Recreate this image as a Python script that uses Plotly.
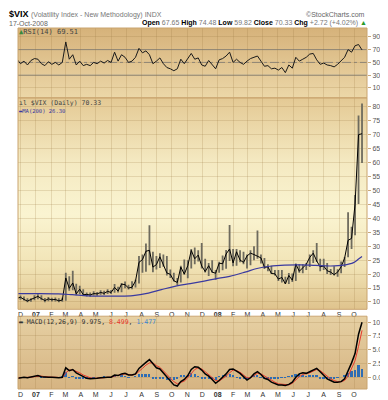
import base64
import pandas as pd
import plotly.graph_objects as go

# ---------------- data (weekly) ----------------
close = [11.3, 11.7, 10.9, 10.3, 10.9, 11.6, 12.0, 11.2, 10.5, 11.1,
         10.8, 10.9, 10.4, 10.7, 18.6, 14.9, 16.8, 12.9, 14.6, 12.6,
         12.7, 12.5, 13.0, 12.9, 13.4, 13.1, 13.8, 13.4, 15.2, 13.9,
         16.4, 16.2, 15.0, 15.3, 17.5, 24.2, 25.2, 28.2, 28.5, 22.5,
         23.4, 26.2, 23.6, 20.4, 19.9, 17.6, 17.0, 22.5, 20.0, 23.0,
         28.5, 25.5, 26.8, 22.9, 20.9, 23.0, 20.7, 20.3, 23.9, 23.7,
         27.2, 29.0, 24.0, 28.0, 25.0, 24.2, 26.5, 27.5, 27.0, 26.4,
         25.8, 22.4, 22.6, 20.2, 20.1, 18.2, 18.8, 16.5, 19.5, 17.8,
         23.6, 21.0, 22.2, 23.5, 26.0, 27.5, 24.7, 22.6, 22.9, 21.2,
         20.7, 19.8, 20.7, 22.6, 25.7, 32.1, 32.8, 45.1, 70.0, 70.33]
high = [11.4, 12.3, 12.0, 11.3, 11.3, 12.4, 12.8, 12.4, 11.4, 11.8,
        11.5, 11.6, 11.3, 11.5, 20.5, 19.2, 21.2, 16.5, 15.8, 14.6,
        13.4, 13.4, 13.8, 13.6, 14.2, 14.0, 14.6, 14.3, 16.4, 15.5,
        16.8, 17.3, 16.2, 17.4, 18.0, 26.5, 27.0, 31.0, 37.5, 28.0,
        26.5, 27.5, 27.0, 26.5, 21.6, 20.5, 18.6, 23.0, 25.2, 25.0,
        29.0, 29.5, 28.5, 31.1, 25.5, 24.0, 25.0, 21.5, 24.4, 26.7,
        28.6, 37.6, 29.0, 29.0, 28.5, 28.0, 27.0, 28.5, 30.0, 35.6,
        27.0, 25.8, 23.5, 23.0, 21.5, 21.5, 21.5, 19.0, 20.4, 20.2,
        23.8, 23.5, 23.5, 24.0, 27.0, 28.5, 31.1, 25.5, 25.5, 24.0,
        21.8, 22.8, 21.7, 24.5, 26.0, 42.2, 37.0, 48.4, 76.9, 81.2]
low = [10.0, 10.8, 10.5, 9.9, 10.1, 10.6, 11.0, 10.6, 9.9, 10.3,
       10.2, 10.2, 9.9, 10.1, 10.4, 14.0, 14.2, 12.4, 12.8, 12.2,
       12.0, 11.9, 12.3, 12.2, 12.6, 12.5, 12.9, 12.9, 13.3, 13.4,
       13.5, 14.9, 14.5, 14.6, 15.2, 16.6, 20.5, 20.8, 23.2, 20.7,
       21.6, 22.2, 22.6, 19.5, 18.6, 17.3, 16.0, 17.0, 19.8, 18.5,
       22.0, 23.5, 24.5, 22.0, 20.6, 19.3, 20.5, 18.0, 20.5, 21.4,
       21.9, 24.7, 22.8, 23.0, 24.2, 23.5, 22.0, 23.2, 25.0, 25.5,
       23.8, 21.8, 21.0, 20.0, 19.5, 17.5, 17.0, 16.5, 16.4, 17.2,
       17.5, 20.5, 20.3, 21.5, 22.5, 24.0, 24.3, 21.0, 21.5, 20.0,
       19.7, 19.5, 19.0, 20.3, 22.5, 26.0, 29.0, 33.9, 45.1, 59.82]

ma_dates = ["2006-11-24", "2007-01-01", "2007-02-15", "2007-03-15", "2007-04-15",
            "2007-05-15", "2007-06-15", "2007-07-15", "2007-08-15", "2007-09-10",
            "2007-10-07", "2007-11-07", "2007-12-05", "2007-12-28", "2008-01-25",
            "2008-02-25", "2008-03-20", "2008-04-15", "2008-05-15", "2008-06-15",
            "2008-07-15", "2008-08-15", "2008-09-10", "2008-09-30", "2008-10-10",
            "2008-10-17"]
ma200 = [13.0, 13.0, 12.9, 12.6, 12.2, 12.1, 12.1, 12.3, 13.2, 14.4,
         15.6, 16.6, 17.5, 18.3, 19.2, 20.7, 22.0, 22.8, 23.2, 23.3,
         23.1, 22.9, 23.2, 24.1, 25.4, 26.3]

rsi = [55, 48, 52, 46, 53, 56, 55, 48, 45, 51,
       47, 50, 46, 50, 82, 55, 62, 46, 52, 45,
       47, 45, 50, 48, 52, 49, 53, 50, 66, 52,
       62, 58, 50, 52, 58, 72, 65, 68, 62, 48,
       52, 57, 48, 42, 40, 37, 40, 55, 48, 56,
       64, 55, 57, 46, 44, 53, 46, 40, 54, 56,
       60, 66, 50, 55, 50, 47, 52, 56, 58, 60,
       52, 44, 45, 40, 41, 38, 42, 34, 46, 41,
       58, 52, 55, 58, 63, 64, 54, 47, 49, 46,
       45, 43, 47, 52, 58, 70, 66, 76, 78, 69.51]

macd = [-0.2, -0.1, 0.0, -0.1, 0.0, 0.2, 0.3, 0.1, 0.0, 0.0,
        0.0, -0.1, -0.1, 0.0, 1.7, 1.2, 1.4, 0.8, 0.5, 0.1,
        -0.2, -0.3, -0.3, -0.2, -0.1, 0.0, 0.0, 0.0, 0.4, 0.3,
        0.6, 0.7, 0.4, 0.4, 0.6, 1.6, 2.2, 2.7, 3.2, 2.4,
        1.7, 1.5, 0.8, 0.0, -0.8, -1.4, -1.6, -0.8, -0.4, 0.3,
        1.4, 1.9, 1.8, 1.3, 0.6, 0.2, -0.4, -1.1, -0.6, 0.0,
        0.6, 1.4, 1.5, 1.1, 0.7, 0.1, -0.5, -0.1, 0.6, 1.0,
        0.5, -0.2, -0.4, -0.9, -1.2, -1.4, -1.4, -1.5, -1.3, -0.9,
        0.0, 0.6, 0.8, 0.7, 1.0, 1.3, 1.6, 1.0, 0.3, -0.3,
        -0.6, -0.9, -0.9, -0.8, -0.3, 1.0, 2.6, 4.3, 7.8, 9.975]
signal = [-0.1, -0.1, 0.0, 0.0, 0.0, 0.1, 0.2, 0.2, 0.1, 0.0,
          0.0, 0.0, -0.1, -0.1, 0.8, 1.3, 1.3, 1.1, 0.8, 0.4,
          0.1, -0.1, -0.2, -0.2, -0.1, -0.1, 0.0, 0.0, 0.2, 0.3,
          0.4, 0.6, 0.5, 0.4, 0.5, 1.0, 1.6, 2.2, 2.6, 2.6,
          2.1, 1.8, 1.2, 0.5, -0.2, -0.8, -1.2, -1.0, -0.7, -0.1,
          0.7, 1.4, 1.7, 1.5, 1.0, 0.5, 0.0, -0.6, -0.7, -0.3,
          0.2, 0.8, 1.3, 1.2, 0.9, 0.4, -0.1, -0.1, 0.3, 0.7,
          0.6, 0.2, -0.2, -0.6, -0.9, -1.2, -1.3, -1.4, -1.4, -1.1,
          -0.5, 0.1, 0.5, 0.6, 0.8, 1.1, 1.4, 1.2, 0.7, 0.1,
          -0.3, -0.6, -0.8, -0.8, -0.6, 0.2, 1.6, 3.0, 5.6, 8.499]
hist = [-0.1, 0.0, 0.0, -0.1, 0.0, 0.1, 0.1, -0.1, -0.1, 0.0,
        0.0, -0.1, 0.0, 0.1, 0.9, -0.1, 0.1, -0.3, -0.3, -0.3,
        -0.3, -0.2, -0.1, 0.0, 0.0, 0.1, 0.0, 0.0, 0.2, 0.0,
        0.2, 0.1, -0.1, 0.0, 0.1, 0.6, 0.6, 0.5, 0.6, -0.2,
        -0.4, -0.3, -0.4, -0.5, -0.6, -0.6, -0.4, 0.2, 0.3, 0.4,
        0.7, 0.5, 0.1, -0.2, -0.4, -0.3, -0.4, -0.5, 0.1, 0.3,
        0.4, 0.6, 0.2, -0.1, -0.2, -0.3, -0.4, 0.0, 0.3, 0.3,
        -0.1, -0.4, -0.2, -0.3, -0.3, -0.2, -0.1, -0.1, 0.1, 0.2,
        0.5, 0.5, 0.3, 0.1, 0.2, 0.2, 0.2, -0.2, -0.4, -0.4,
        -0.3, -0.3, -0.1, 0.0, 0.3, 0.8, 1.0, 1.3, 2.2, 1.477]

tick_text = ["D", "<b>07</b>", "F", "M", "A", "M", "J", "J", "A", "S", "O", "N",
             "D", "<b>08</b>", "F", "M", "A", "M", "J", "J", "A", "S", "O"]
rsi_ticks = [10, 30, 50, 70, 90]
price_ticks = [10, 15, 20, 25, 30, 35, 40, 45, 50, 55, 60, 65, 70, 75, 80]
macd_ticks = [0, 2.5, 5, 7.5, 10]
macd_tick_text = ["0.0", "2.5", "5.0", "7.5", "10.0"]

dates = pd.date_range(end="2008-10-17", periods=len(close), freq="W-FRI")
month_ticks = pd.date_range("2006-12-01", "2008-10-01", freq="MS")

# ---------------- layout geometry ----------------
W, H = 388, 400
L, R, T, B = 10, 363, 20, 387
X0, X1 = "2006-11-26", "2008-10-27"


def px(x):
    return (x - L) / (R - L)


def py(y):
    return (B - y) / (B - T)


rsi_dom = [py(91), 1.0]
price_dom = [py(306), py(91)]
macd_dom = [0.0, py(313)]

FONT = "Liberation Sans"
MONO = "DejaVu Sans Mono"
GRID = "rgba(150,115,60,0.20)"


def grad(stops):
    s = "".join(f'<stop offset="{o}" stop-color="{c}"/>' for o, c in stops)
    svg = ('<svg xmlns="http://www.w3.org/2000/svg" width="10" height="100" viewBox="0 0 10 100" '
           'preserveAspectRatio="none"><defs><linearGradient id="g" x1="0" y1="0" x2="0" y2="1">'
           + s + '</linearGradient></defs><rect width="10" height="100" fill="url(#g)"/></svg>')
    return "data:image/svg+xml;base64," + base64.b64encode(svg.encode()).decode()


fig = go.Figure()

fig.add_trace(go.Scatter(x=dates, y=rsi, mode="lines", line=dict(color="#1a1a1a", width=1),
                         xaxis="x", yaxis="y", hoverinfo="skip"))
fig.add_trace(go.Scatter(
    x=dates, y=close, mode="lines", line=dict(color="#000000", width=1),
    error_y=dict(type="data", symmetric=False,
                 array=[h - c for h, c in zip(high, close)],
                 arrayminus=[c - l for c, l in zip(close, low)],
                 color="#6e6b5e", thickness=1.8, width=0),
    xaxis="x2", yaxis="y2", hoverinfo="skip"))
fig.add_trace(go.Scatter(x=ma_dates, y=ma200, mode="lines",
                         line=dict(color="#3a3aa0", width=1.2, shape="spline"),
                         xaxis="x2", yaxis="y2", hoverinfo="skip"))
fig.add_trace(go.Bar(x=dates, y=hist, marker=dict(color="#2e6db4", line_width=0),
                     width=4 * 86400000, xaxis="x3", yaxis="y3", hoverinfo="skip"))
fig.add_trace(go.Scatter(x=dates, y=signal, mode="lines", line=dict(color="#e8392c", width=1),
                         xaxis="x3", yaxis="y3", hoverinfo="skip"))
fig.add_trace(go.Scatter(x=dates, y=macd, mode="lines", line=dict(color="#000000", width=1.5),
                         xaxis="x3", yaxis="y3", hoverinfo="skip"))

xcommon = dict(type="date", range=[X0, X1], tickvals=month_ticks, ticktext=tick_text,
               showgrid=True, gridcolor=GRID, gridwidth=1, zeroline=False, showline=False,
               ticks="", tickfont=dict(family=FONT, size=7, color="#333333"), fixedrange=True)
ycommon = dict(side="right", showgrid=True, gridcolor=GRID, gridwidth=1, zeroline=False,
               showline=False, ticks="outside", ticklen=3, tickcolor="#c8a878",
               tickfont=dict(family=FONT, size=7, color="#555555"), fixedrange=True)

shapes = []
for dom in (rsi_dom, price_dom, macd_dom):
    shapes.append(dict(type="rect", xref="paper", yref="paper", x0=0, x1=1, y0=dom[0], y1=dom[1],
                       line=dict(color="#c9a46e", width=1), fillcolor="rgba(0,0,0,0)", layer="above"))
for lvl, dash in ((70, "solid"), (30, "solid"), (50, "dashdot")):
    shapes.append(dict(type="line", xref="paper", yref="y", x0=0, x1=1, y0=lvl, y1=lvl,
                       line=dict(color="#8c8a84", width=1, dash=dash), layer="below"))

images = [
    dict(source=grad([(0, "#d6b27a"), (1, "#ecd7a8")]), xref="paper", yref="paper",
         x=0, y=rsi_dom[1], sizex=1, sizey=rsi_dom[1] - rsi_dom[0], sizing="stretch",
         xanchor="left", yanchor="top", layer="below"),
    dict(source=grad([(0, "#e4c994"), (0.3, "#f4e9c1"), (0.55, "#faf4d1"), (0.8, "#f1e3b5"), (1, "#dfc38d")]),
         xref="paper", yref="paper", x=0, y=price_dom[1], sizex=1, sizey=price_dom[1] - price_dom[0],
         sizing="stretch", xanchor="left", yanchor="top", layer="below"),
    dict(source=grad([(0, "#e6d0a3"), (1, "#d6b482")]), xref="paper", yref="paper",
         x=0, y=macd_dom[1], sizex=1, sizey=macd_dom[1] - macd_dom[0], sizing="stretch",
         xanchor="left", yanchor="top", layer="below"),
]


def ann(x, y, text, size=7, color="#333333", xanchor="left", family=FONT):
    return dict(xref="paper", yref="paper", x=px(x), y=py(y), text=text, showarrow=False,
                xanchor=xanchor, yanchor="middle", borderpad=0,
                font=dict(family=family, size=size, color=color))


g = "color:#777777"
annotations = [
    ann(0, 6, f"<b>$VIX</b> <span style='font-size:7px;{g}'>(Volatility Index - New Methodology) INDX</span>",
        size=9, color="#000000"),
    ann(362, 6, "©StockCharts.com", size=7, color="#666666", xanchor="right"),
    ann(0, 15, "17-Oct-2008", size=7, color="#666666"),
    ann(364, 15, f"<b>Open</b> <span style='{g}'>67.65</span> <b>High</b> <span style='{g}'>74.48</span> "
                 f"<b>Low</b> <span style='{g}'>59.82</span> <b>Close</b> <span style='{g}'>70.33</span> "
                 f"<b>Chg</b> <span style='{g}'>+2.72 (+4.02%)</span> <span style='color:#2a9a2a'>▲</span>",
        size=7, color="#000000", xanchor="right"),
    ann(10, 24, "<span style='color:#3a8a3a'>▲</span>RSI(14) 69.51", size=7, color="#444444", family=MONO),
    ann(10, 96, "ıl $VIX (Daily) 70.33", size=6.5, color="#444444", family=MONO),
    ann(10, 104, "<span style='color:#3a3aa0'>▬</span>MA(200) 26.30", size=5.5, color="#3a3aa0", family=MONO),
    ann(10, 319, "▬ MACD(12,26,9) 9.975, <span style='color:#e8392c'>8.499</span>, "
                 "<span style='color:#3a86d0'>1.477</span>", size=6.5, color="#333333", family=MONO),
]

fig.update_layout(
    width=W, height=H, margin=dict(l=L, r=W - R, t=T, b=H - B),
    paper_bgcolor="#ffffff", plot_bgcolor="rgba(0,0,0,0)", showlegend=False,
    xaxis=dict(**xcommon, domain=[0, 1], anchor="y", showticklabels=False),
    xaxis2=dict(**xcommon, domain=[0, 1], anchor="y2", showticklabels=True),
    xaxis3=dict(**xcommon, domain=[0, 1], anchor="y3", showticklabels=True),
    yaxis=dict(**ycommon, domain=rsi_dom, range=[-5.4, 103.8], tickvals=rsi_ticks, anchor="x"),
    yaxis2=dict(**ycommon, domain=price_dom, range=[7.36, 83.2], tickvals=price_ticks, anchor="x2"),
    yaxis3=dict(**ycommon, domain=macd_dom, range=[-2.14, 11.07], tickvals=macd_ticks,
                ticktext=macd_tick_text, anchor="x3"),
    shapes=shapes, images=images, annotations=annotations, bargap=0,
)

fig.write_html("out.html")
